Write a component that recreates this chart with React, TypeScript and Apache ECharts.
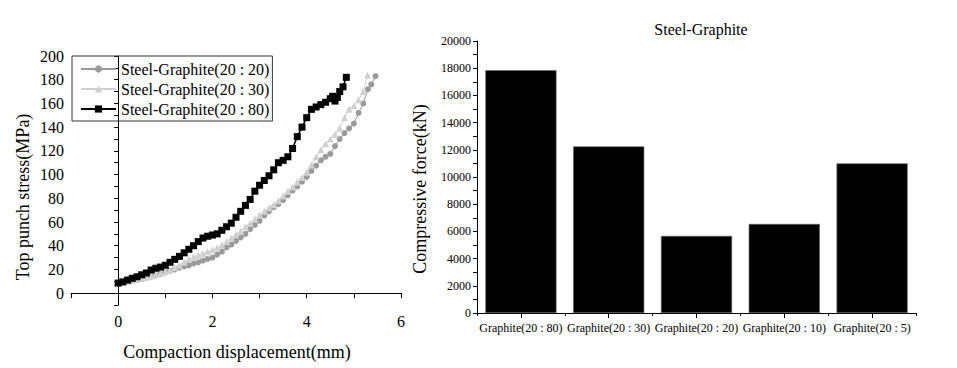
import React, { useEffect, useRef } from "react";
import * as echarts from "echarts";

// Left chart: compaction curves (displacement mm, stress MPa)
const disp2020 = [0, 0.1, 0.2, 0.3, 0.4, 0.5, 0.6, 0.7, 0.8, 0.9, 1.0, 1.1, 1.2, 1.3, 1.4, 1.5, 1.6, 1.7, 1.8, 1.9, 2.0, 2.1, 2.2, 2.3, 2.4, 2.5, 2.6, 2.7, 2.8, 2.9, 3.0, 3.1, 3.2, 3.3, 3.4, 3.5, 3.6, 3.7, 3.8, 3.9, 4.0, 4.1, 4.2, 4.3, 4.4, 4.5, 4.6, 4.7, 4.8, 4.9, 5.0, 5.1, 5.2, 5.3, 5.37, 5.46];
const stress2020 = [8.5, 9, 9.8, 10.5, 11.2, 12, 13, 14, 15, 16.2, 17.5, 19, 20, 21.5, 22.5, 23.5, 25, 26, 27.5, 28.8, 30, 32.5, 35, 38.5, 41, 44, 47, 50, 54, 57.5, 61, 65.5, 69, 72.5, 75, 78.5, 82.5, 86.5, 90, 94, 98, 103, 107.5, 112, 115, 117.5, 124, 130, 135, 139, 143, 152, 160, 172, 176, 183];

const disp2030 = [0, 0.1, 0.2, 0.3, 0.4, 0.5, 0.6, 0.7, 0.8, 0.9, 1.0, 1.1, 1.2, 1.3, 1.4, 1.5, 1.6, 1.7, 1.8, 1.9, 2.0, 2.1, 2.2, 2.3, 2.4, 2.5, 2.6, 2.7, 2.8, 2.9, 3.0, 3.1, 3.2, 3.3, 3.4, 3.5, 3.6, 3.7, 3.8, 3.9, 4.0, 4.1, 4.2, 4.3, 4.4, 4.5, 4.6, 4.7, 4.8, 4.9, 5.0, 5.1, 5.2, 5.29];
const stress2030 = [8.5, 9.3, 10.2, 11, 11.8, 12.5, 13.5, 14.5, 16, 17, 18.3, 19.5, 21.5, 23.5, 26, 28.5, 30.5, 32, 33.5, 35, 36.5, 38, 40.5, 43.5, 46.5, 49.5, 52.5, 56, 59, 62.5, 66, 69, 72, 74.5, 78, 82, 86, 89.5, 93.5, 97.5, 102, 108, 115, 121, 126, 130, 134, 139, 148, 155, 158, 163, 170, 184];

const disp2080 = [0, 0.1, 0.2, 0.3, 0.4, 0.5, 0.6, 0.7, 0.8, 0.9, 1.0, 1.1, 1.2, 1.3, 1.4, 1.5, 1.6, 1.7, 1.8, 1.9, 2.0, 2.1, 2.2, 2.3, 2.4, 2.5, 2.6, 2.7, 2.8, 2.9, 3.0, 3.1, 3.2, 3.3, 3.4, 3.5, 3.6, 3.7, 3.8, 3.9, 4.0, 4.1, 4.2, 4.3, 4.4, 4.5, 4.55, 4.6, 4.65, 4.7, 4.77, 4.84];
const stress2080 = [8.5, 9.5, 11, 12.5, 13.8, 15.5, 17, 19.5, 21, 22, 23.5, 26, 28.5, 31, 34, 37, 40, 43.5, 46.5, 48, 49, 50, 53, 56, 59, 64, 69, 74, 79, 86, 91, 95, 99, 104, 110, 112, 115, 122, 132, 140, 148, 155, 157, 159, 161, 164, 166, 162, 165, 170, 174, 182];

const lineNames = ["Steel-Graphite(20 : 20)", "Steel-Graphite(20 : 30)", "Steel-Graphite(20 : 80)"];

// Right chart: compressive force
const barCategories = ["Graphite(20 : 80)", "Graphite(20 : 30)", "Graphite(20 : 20)", "Graphite(20 : 10)", "Graphite(20 : 5)"];
const barValues = [17850, 12250, 5670, 6550, 11000];

const FONT = "Liberation Serif";

function pairs(xs: number[], ys: number[]) {
  return xs.map((x, i) => [x, ys[i]]);
}

export default function App() {
  const ref = useRef<HTMLDivElement>(null);
  useEffect(() => {
    if (!ref.current) return;
    const chart = echarts.init(ref.current, undefined, { renderer: "svg" });
    const axisLine = { show: true, lineStyle: { color: "#000", width: 1 } };
    const option: any = {
      animation: false,
      backgroundColor: "#fff",
      textStyle: { fontFamily: FONT, color: "#000" },
      title: {
        text: "Steel-Graphite",
        left: 696,
        top: 16,
        textAlign: "center",
        textStyle: { fontFamily: FONT, fontSize: 16, fontWeight: "normal", color: "#000" },
      },
      legend: {
        data: lineNames,
        orient: "vertical",
        left: 72,
        top: 56,
        borderColor: "#333",
        borderWidth: 1,
        padding: [5, 3, 4, 8],
        itemWidth: 35,
        itemHeight: 9,
        itemGap: 4,
        itemTextGap: 7,
        textStyle: { fontFamily: FONT, fontSize: 16, color: "#000" },
      },
      grid: [
        { left: 71, top: 56, width: 330, height: 249 },
        { left: 477, top: 41, width: 439, height: 272 },
      ],
      xAxis: [
        {
          type: "value",
          gridIndex: 0,
          min: -1,
          max: 6,
          interval: 1,
          axisLine,
          splitLine: { show: false },
          axisTick: { show: true, length: 5, lineStyle: { color: "#000" } },
          axisLabel: {
            margin: 8,
            fontFamily: FONT,
            fontSize: 16,
            color: "#000",
            formatter: (v: number) => (v >= 0 && Math.round(v) % 2 === 0 ? String(Math.round(v)) : ""),
          },
        },
        {
          type: "category",
          gridIndex: 1,
          data: barCategories,
          axisLine,
          axisTick: { show: true, alignWithLabel: true, length: 5, lineStyle: { color: "#000" } },
          axisLabel: { interval: 0, margin: 9, fontFamily: FONT, fontSize: 12, color: "#000" },
        },
        {
          type: "value",
          gridIndex: 1,
          min: 0,
          max: 5,
          interval: 1,
          position: "bottom",
          axisLine: { show: false },
          splitLine: { show: false },
          axisTick: { show: true, length: 3, lineStyle: { color: "#000" } },
          axisLabel: { show: false },
        },
      ],
      yAxis: [
        {
          type: "value",
          gridIndex: 0,
          min: -10,
          max: 200,
          interval: 10,
          axisLine,
          splitLine: { show: false },
          axisTick: { show: true, length: 4, lineStyle: { color: "#000" } },
          axisLabel: {
            margin: 7,
            fontFamily: FONT,
            fontSize: 16,
            color: "#000",
            formatter: (v: number) => (v >= 0 && Math.round(v) % 20 === 0 ? String(Math.round(v)) : ""),
          },
        },
        {
          type: "value",
          gridIndex: 1,
          min: 0,
          max: 20000,
          interval: 1000,
          axisLine,
          splitLine: { show: false },
          axisTick: { show: true, length: 4, lineStyle: { color: "#000" } },
          axisLabel: {
            margin: 6,
            fontFamily: FONT,
            fontSize: 12,
            color: "#000",
            formatter: (v: number) => (Math.round(v) % 2000 === 0 ? String(Math.round(v)) : ""),
          },
        },
      ],
      series: [
        {
          name: lineNames[0],
          type: "line",
          xAxisIndex: 0,
          yAxisIndex: 0,
          data: pairs(disp2020, stress2020),
          symbol: "circle",
          symbolSize: 6,
          lineStyle: { color: "#999", width: 1 },
          itemStyle: { color: "#9a9a9a" },
        },
        {
          name: lineNames[1],
          type: "line",
          xAxisIndex: 0,
          yAxisIndex: 0,
          data: pairs(disp2030, stress2030),
          symbol: "triangle",
          symbolSize: 7,
          lineStyle: { color: "#cfcfcf", width: 1 },
          itemStyle: { color: "#d0d0d0" },
        },
        {
          name: lineNames[2],
          type: "line",
          xAxisIndex: 0,
          yAxisIndex: 0,
          data: pairs(disp2080, stress2080),
          symbol: "rect",
          symbolSize: 7,
          lineStyle: { color: "#000", width: 1.5 },
          itemStyle: { color: "#000" },
        },
        {
          name: "Compressive force",
          type: "bar",
          xAxisIndex: 1,
          yAxisIndex: 1,
          data: barValues,
          barCategoryGap: "19%",
          itemStyle: { color: "#000", borderColor: "#666", borderWidth: 0.6 },
        },
      ],
      graphic: [
        {
          type: "text",
          x: 237,
          y: 352,
          style: {
            text: "Compaction displacement(mm)",
            font: `18px ${FONT}`,
            fill: "#000",
            textAlign: "center",
            textVerticalAlign: "middle",
          },
        },
        {
          type: "text",
          x: 23,
          y: 197,
          rotation: Math.PI / 2,
          style: {
            text: "Top punch stress(MPa)",
            font: `18px ${FONT}`,
            fill: "#000",
            textAlign: "center",
            textVerticalAlign: "middle",
          },
        },
        {
          type: "text",
          x: 420,
          y: 189,
          rotation: Math.PI / 2,
          style: {
            text: "Compressive force(kN)",
            font: `18px ${FONT}`,
            fill: "#000",
            textAlign: "center",
            textVerticalAlign: "middle",
          },
        },
      ],
    };
    chart.setOption(option);
    return () => chart.dispose();
  }, []);
  return (
    <div
      ref={ref}
      style={{ position: "absolute", left: 0, top: 0, width: 957, height: 368, background: "#fff" }}
    />
  );
}
